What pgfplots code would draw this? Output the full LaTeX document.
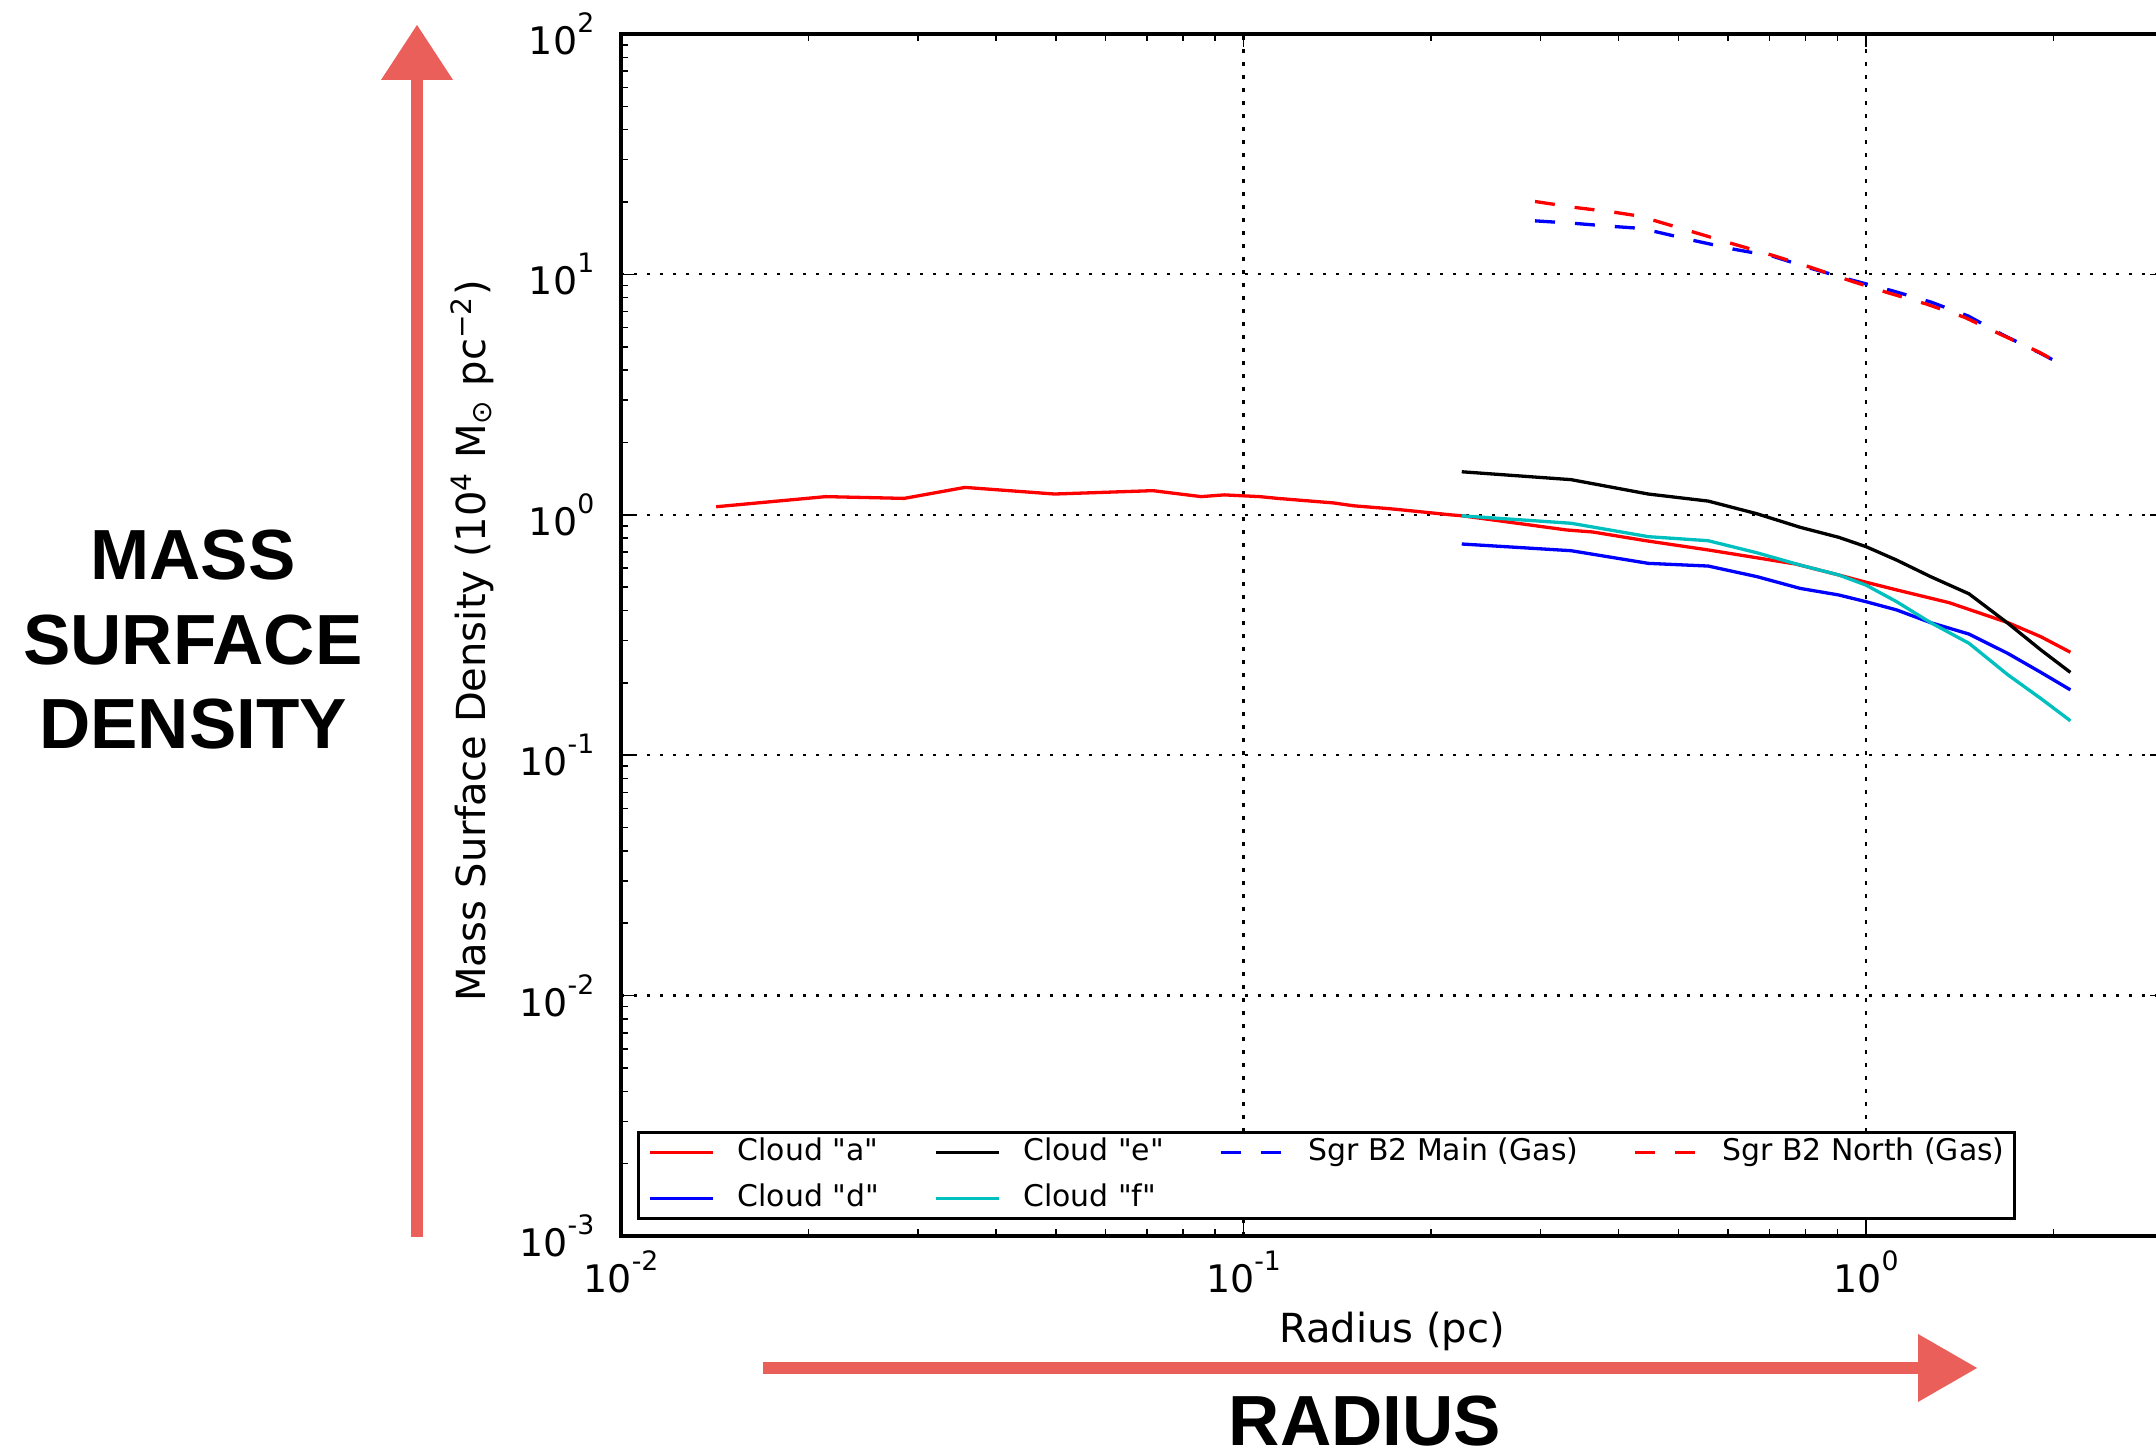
\documentclass[border=0pt]{standalone}
\usepackage{fontspec}
\setmainfont{DejaVu Sans}[Ligatures=TeXOff]
\newfontfamily\lsans{Liberation Sans}
\usepackage{pgfplots}
\pgfplotsset{compat=1.18}
\definecolor{arrowred}{RGB}{235,95,90}
\definecolor{mplcyan}{rgb}{0,0.75,0.75}
\newcommand{\tl}[1]{10\raisebox{0.58em}{\fontsize{7.6}{8}\selectfont #1}}
\newcommand{\q}{\symbol{34}}

\begin{document}
\begin{tikzpicture}
\useasboundingbox (0mm,0mm) rectangle (215.6mm,145.6mm);
\clip (0mm,0mm) rectangle (215.6mm,145.6mm);
\begin{scope}[x=0.1mm,y=0.1mm]
\fill[arrowred] (411,219) rectangle (423,1380);
\fill[arrowred] (381,1376) -- (417,1431) -- (453,1376) -- cycle;
\fill[arrowred] (763,82) rectangle (1920,94);
\fill[arrowred] (1918,122) -- (1977,88) -- (1918,54) -- cycle;
\node[anchor=base, font=\lsans\bfseries\fontsize{20.2}{24}\selectfont] at (193,876) {MASS};
\node[anchor=base, font=\lsans\bfseries\fontsize{20.2}{24}\selectfont] at (193,791) {SURFACE};
\node[anchor=base, font=\lsans\bfseries\fontsize{20.2}{24}\selectfont] at (193,707) {DENSITY};
\node[anchor=base, font=\lsans\bfseries\fontsize{20.2}{24}\selectfont] at (1365,10) {RADIUS};
\end{scope}
\begin{axis}[
  at={(62.1mm,22mm)}, anchor=south west,
  scale only axis, width=154.2mm, height=120.2mm,
  xmode=log, ymode=log,
  xmin=0.01, xmax=3, ymin=1e-3, ymax=1e2,
  xtick={0.01,0.1,1}, xticklabels={\tl{-2},\tl{-1},\tl{0}},
  ytick={1e-3,1e-2,1e-1,1,10,100},
  yticklabels={\tl{-3},\tl{-2},\tl{-1},\tl{0},\tl{1},\tl{2}},
  minor xtick={0.02,0.03,0.04,0.05,0.06,0.07,0.08,0.09,0.2,0.3,0.4,0.5,0.6,0.7,0.8,0.9,2,3},
  minor ytick={0.002,0.003,0.004,0.005,0.006,0.007,0.008,0.009,
               0.02,0.03,0.04,0.05,0.06,0.07,0.08,0.09,
               0.2,0.3,0.4,0.5,0.6,0.7,0.8,0.9,
               2,3,4,5,6,7,8,9,20,30,40,50,60,70,80,90},
  tick pos=both, tick align=inside,
  major tick length=1.27mm, minor tick length=0.67mm,
  tick style={black, line width=0.15mm},
  axis line style={line width=0.35mm},
  grid=major,
  major grid style={black, line width=0.22mm, dash pattern=on 0.35mm off 0.95mm},
  ticklabel style={font=\fontsize{10.8}{13}\selectfont},
  yticklabel style={anchor=east, inner sep=0pt, xshift=-2.6mm},
  xticklabel style={anchor=north, inner sep=0pt, yshift=-1.4mm},
  xlabel={Radius (pc)},
  ylabel={Mass Surface Density (10\textsuperscript{4} M\textsubscript{⊙} pc\textsuperscript{−2})},
  label style={font=\fontsize{11.4}{13}\selectfont},
  xlabel style={at={(axis description cs:0.5,-0.079)}, anchor=center},
  ylabel style={at={(axis description cs:-0.0966,0.495)}, anchor=center},
  legend columns=4,
  legend cell align=left,
  legend style={at={(0.0104,0.0133)}, anchor=south west, draw=black, line width=0.3mm,
    fill=white, inner xsep=1mm, inner ysep=0.5mm, row sep=1.6mm,
    font=\fontsize{8.5}{10}\selectfont,
    nodes={inner sep=0pt, text height=2.3mm, text depth=0.7mm},
    /tikz/every even column/.append style={column sep=5.5mm},
    /tikz/every odd column/.append style={column sep=2.3mm}},
  legend image code/.code={\draw[#1, line width=0.33mm] (0mm,0mm) -- (6.3mm,0mm);},
  every axis plot/.append style={line width=0.33mm},
]
% Cloud "a"
\addplot[red] coordinates {
(0.01422,1.08) (0.02133,1.19) (0.0285,1.17) (0.0357,1.30) (0.0497,1.22)
(0.0715,1.26) (0.0855,1.19) (0.0931,1.21) (0.1062,1.19) (0.1135,1.17)
(0.1396,1.12) (0.1503,1.09) (0.1717,1.06) (0.1783,1.05) (0.2148,1.00)
(0.2249,0.99) (0.330,0.865) (0.364,0.848) (0.443,0.780) (0.558,0.714)
(0.771,0.624) (0.904,0.562) (1.0,0.524) (1.12,0.487) (1.36,0.431)
(1.69,0.356) (1.91,0.311) (2.13,0.268)};
\addlegendentry{Cloud \q a\q}
% Cloud "e"
\addplot[black] coordinates {
(0.2242,1.51) (0.336,1.40) (0.447,1.22) (0.558,1.14) (0.668,1.01)
(0.784,0.887) (0.904,0.806) (1.0,0.737) (1.12,0.648) (1.27,0.553)
(1.464,0.469) (1.69,0.354) (1.91,0.274) (2.13,0.221)};
\addlegendentry{Cloud \q e\q}
% Sgr B2 Main
\addplot[blue, dash pattern=on 2mm off 2mm] coordinates {
(0.294,16.7) (0.340,16.3) (0.396,15.8) (0.425,15.6) (0.459,15.06)
(0.531,13.8) (0.616,12.7) (0.708,11.9) (0.815,10.6) (0.947,9.48)
(1.10,8.56) (1.27,7.68) (1.46,6.71) (1.66,5.60) (1.90,4.72) (2.03,4.31)};
\addlegendentry{Sgr B2 Main (Gas)}
% Sgr B2 North
\addplot[red, dash pattern=on 2mm off 2mm] coordinates {
(0.294,20.1) (0.340,19.0) (0.396,18.1) (0.425,17.6) (0.459,16.7)
(0.530,14.96) (0.611,13.4) (0.705,12.04) (0.815,10.7) (0.942,9.42)
(1.084,8.39) (1.25,7.53) (1.44,6.63) (1.65,5.61) (1.90,4.74) (2.03,4.31)};
\addlegendentry{Sgr B2 North (Gas)}
% Cloud "d"
\addplot[blue] coordinates {
(0.2242,0.756) (0.336,0.709) (0.447,0.628) (0.558,0.612) (0.668,0.553)
(0.784,0.494) (0.904,0.464) (1.0,0.435) (1.12,0.402) (1.27,0.356)
(1.464,0.319) (1.69,0.265) (1.91,0.221) (2.13,0.187)};
\addlegendentry{Cloud \q d\q}
% Cloud "f"
\addplot[mplcyan] coordinates {
(0.2242,0.99) (0.336,0.922) (0.447,0.811) (0.558,0.780) (0.668,0.695)
(0.784,0.618) (0.904,0.562) (1.0,0.510) (1.12,0.435) (1.27,0.356)
(1.464,0.292) (1.69,0.216) (1.91,0.172) (2.13,0.139)};
\addlegendentry{Cloud \q f\q}
\end{axis}
\end{tikzpicture}
\end{document}
